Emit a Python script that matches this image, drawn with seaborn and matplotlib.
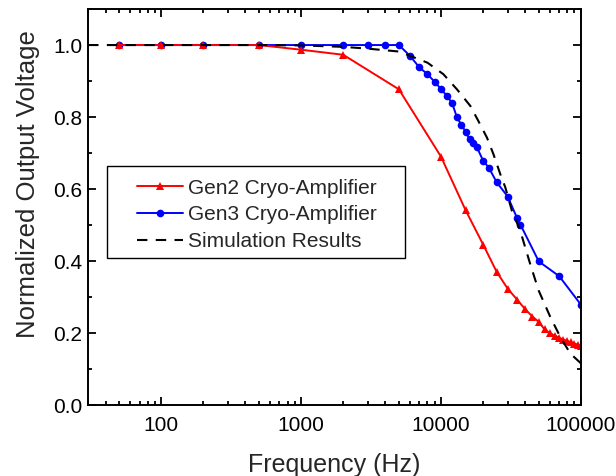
import numpy as np
import pandas as pd
import matplotlib
matplotlib.use('Agg')
import matplotlib.pyplot as plt
import seaborn as sns
from matplotlib.ticker import LogLocator, MultipleLocator, FixedLocator, FormatStrFormatter
from matplotlib.patches import Rectangle

# Data
gen2_freq = [50, 100, 200, 500, 1000, 2000, 5000, 10000, 15000, 20000, 25000,
             30000, 35000, 40000, 45000, 50000, 55000, 60000, 65000, 70000,
             75000, 80000, 85000, 90000, 95000, 100000]
gen2_volt = [1.0, 1.0, 1.0, 1.0, 0.987, 0.973, 0.877, 0.690, 0.541, 0.446, 0.370,
             0.323, 0.293, 0.266, 0.246, 0.231, 0.210, 0.200, 0.193, 0.187,
             0.182, 0.178, 0.174, 0.171, 0.168, 0.165]

gen3_freq = [50, 100, 200, 500, 1000, 2000, 3000, 4000, 5000, 6000, 7000, 8000,
             9000, 10000, 11000, 12000, 13000, 14000, 15000, 16000, 17000, 18000,
             20000, 22000, 25000, 30000, 35000, 37000, 50000, 70000, 100000]
gen3_volt = [1.0, 1.0, 1.0, 1.0, 1.0, 1.0, 1.0, 1.0, 1.0, 0.970, 0.938, 0.919,
             0.898, 0.878, 0.859, 0.839, 0.799, 0.778, 0.759, 0.739, 0.729, 0.717,
             0.679, 0.659, 0.619, 0.579, 0.519, 0.501, 0.399, 0.358, 0.279]

sim_freq = [30, 500, 1000, 2000, 3000, 5000, 6000, 8000, 10400, 13000, 16200,
            18500, 21300, 23700, 26500, 28800, 32100, 36800, 43400, 49800,
            60400, 71300, 84100, 100000]
sim_volt = [1.0, 1.0, 0.999, 0.995, 0.99, 0.982, 0.970, 0.951, 0.919, 0.877, 0.831,
            0.789, 0.743, 0.697, 0.642, 0.605, 0.540, 0.485, 0.392, 0.319,
            0.245, 0.189, 0.143, 0.116]

sns.set_style('ticks')
plt.rcParams['font.family'] = ['Liberation Sans', 'DejaVu Sans']

fig = plt.figure(figsize=(6.16, 4.76), dpi=100)
ax = fig.add_axes([0.143, 0.149, 0.8, 0.832])

df2 = pd.DataFrame({'f': gen2_freq, 'v': gen2_volt})
df3 = pd.DataFrame({'f': gen3_freq, 'v': gen3_volt})
dfs = pd.DataFrame({'f': sim_freq, 'v': sim_volt})

sns.lineplot(data=df3, x='f', y='v', ax=ax, color='#0000ff', marker='o',
             markersize=5.5, markeredgewidth=0, linewidth=1.4, zorder=1,
             label='Gen3 Cryo-Amplifier')
sns.lineplot(data=df2, x='f', y='v', ax=ax, color='#ff0000', marker='^',
             markersize=5.5, markeredgewidth=0, linewidth=1.4, zorder=2,
             label='Gen2 Cryo-Amplifier')
sns.lineplot(data=dfs, x='f', y='v', ax=ax, color='black', linewidth=1.5,
             dashes=(5, 4), zorder=3, label='Simulation Results')

ax.set_xscale('log')
ax.set_xlim(30, 100000)
ax.set_ylim(0, 1.1)

ax.xaxis.set_major_locator(FixedLocator([100, 1000, 10000, 100000]))
ax.xaxis.set_minor_locator(LogLocator(base=10, subs=np.arange(2, 10), numticks=20))
ax.set_xticklabels(['100', '1000', '10000', '100000'])
ax.yaxis.set_major_locator(MultipleLocator(0.2))
ax.yaxis.set_minor_locator(MultipleLocator(0.1))
ax.yaxis.set_major_formatter(FormatStrFormatter('%.1f'))

ax.tick_params(which='both', direction='in', top=True, right=True, width=1.3,
               labelsize=15, colors='black')
ax.tick_params(which='major', length=6)
ax.tick_params(which='minor', length=3)
ax.tick_params(axis='x', which='major', pad=8)
ax.tick_params(axis='y', which='major', pad=4)
for s in ax.spines.values():
    s.set_linewidth(1.4)
    s.set_color('black')

ax.set_xlabel('Frequency (Hz)', fontsize=18, labelpad=13)
ax.set_ylabel('Normalized Output Voltage', fontsize=18.5)
ax.yaxis.set_label_coords(-0.097, 0.558)

# legend box drawn separately so the wide side padding matches
ax.add_patch(Rectangle((0.0385, 0.371), 0.6045, 0.2325, transform=ax.transAxes,
                       facecolor='white', edgecolor='black', linewidth=1.0,
                       zorder=4))
handles, labels = ax.get_legend_handles_labels()
order = [1, 0, 2]
leg = ax.legend([handles[i] for i in order], [labels[i] for i in order],
                loc='upper left', bbox_to_anchor=(0.099, 0.572), borderaxespad=0,
                fontsize=15, frameon=False, borderpad=0,
                handlelength=2.2, numpoints=1, labelspacing=0.37,
                handletextpad=0.25)
leg.set_zorder(5)

fig.savefig('out.png', dpi=100)
